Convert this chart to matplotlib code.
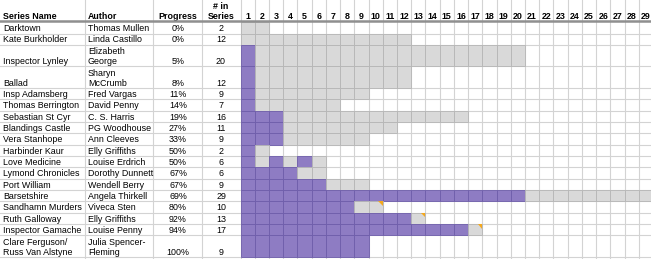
import matplotlib.pyplot as plt
import matplotlib.patches as patches

plt.rcParams['font.family'] = ['Liberation Sans', 'DejaVu Sans']

series = ["Darktown", "Kate Burkholder", "Inspector Lynley", "Ballad", "Insp Adamsberg",
          "Thomas Berrington", "Sebastian St Cyr", "Blandings Castle", "Vera Stanhope",
          "Harbinder Kaur", "Love Medicine", "Lymond Chronicles", "Port William",
          "Barsetshire", "Sandhamn Murders", "Ruth Galloway", "Inspector Gamache",
          "Clare Ferguson/\nRuss Van Alstyne"]
authors = ["Thomas Mullen", "Linda Castillo", "Elizabeth\nGeorge", "Sharyn\nMcCrumb",
           "Fred Vargas", "David Penny", "C. S. Harris", "PG Woodhouse", "Ann Cleeves",
           "Elly Griffiths", "Louise Erdrich", "Dorothy Dunnett", "Wendell Berry",
           "Angela Thirkell", "Viveca Sten", "Elly Griffiths", "Louise Penny",
           "Julia Spencer-\nFleming"]
progress = ["0%", "0%", "5%", "8%", "11%", "14%", "19%", "27%", "33%", "50%", "50%",
            "67%", "67%", "69%", "80%", "92%", "94%", "100%"]
in_series = [2, 12, 20, 12, 9, 7, 16, 11, 9, 2, 6, 6, 9, 29, 10, 13, 17, 9]
books_read = [[], [], [1], [1], [1], [1], [1, 2, 3], [1, 2, 3], [1, 2, 3], [1],
              [1, 3, 5], [1, 2, 3, 4], [1, 2, 3, 4, 5, 6], list(range(1, 21)),
              list(range(1, 9)), list(range(1, 13)), list(range(1, 17)), list(range(1, 10))]
# cells carrying a comment marker (row, book)
notes = [(14, 10), (15, 13), (16, 17)]
book_numbers = list(range(1, 30))

W, H = 651, 259
fig = plt.figure(figsize=(W / 100, H / 100), dpi=100)
ax = fig.add_axes([0, 0, 1, 1])
ax.set_xlim(0, W)
ax.set_ylim(H, 0)
ax.axis('off')

PURPLE = '#8e7cc3'
PURPLE_EDGE = '#6e5daa'
GRAY = '#d9d9d9'
GRAY_EDGE = '#b5b5b5'
GRID = '#d3d3d3'
FS = 6.4

header_bottom = 22.2
x0, cw = 240.6, 14.22
col_lines = [85, 153, 202]
name_x, author_x, prog_x, num_x = 3, 88, 178, 221

# row positions
tops = []
heights = []
y = header_bottom
for s, a in zip(series, authors):
    h = 21.5 if ('\n' in s or '\n' in a) else 11.35
    tops.append(y)
    heights.append(h)
    y += h

# grid
for x in col_lines:
    ax.axvline(x, color=GRID, lw=0.8, zorder=1)
for k in range(len(book_numbers) + 1):
    ax.axvline(x0 + k * cw, color=GRID, lw=0.8, zorder=1)
for t, h in zip(tops, heights):
    ax.axhline(t + h, color=GRID, lw=0.8, zorder=1)

# gantt cells
for i, n in enumerate(in_series):
    for b in range(1, n + 1):
        read = b in books_read[i]
        ax.add_patch(patches.Rectangle(
            (x0 + (b - 1) * cw, tops[i]), cw, heights[i],
            facecolor=PURPLE if read else GRAY,
            edgecolor=PURPLE_EDGE if read else GRAY_EDGE,
            lw=0.6, zorder=2))

for i, b in notes:
    xr = x0 + b * cw
    yt = tops[i]
    ax.add_patch(patches.Polygon([(xr - 4.5, yt), (xr, yt), (xr, yt + 4.5)],
                                 closed=True, facecolor='#f4a81d', edgecolor='none', zorder=3))

# header
hy = 19.3
ax.text(name_x, hy, "Series Name", fontsize=FS, fontweight='bold', va='baseline', ha='left')
ax.text(author_x, hy, "Author", fontsize=FS, fontweight='bold', va='baseline', ha='left')
ax.text(prog_x, hy, "Progress", fontsize=FS, fontweight='bold', va='baseline', ha='center')
ax.text(num_x, hy, "Series", fontsize=FS, fontweight='bold', va='baseline', ha='center')
ax.text(num_x, hy - 10, "# in", fontsize=FS, fontweight='bold', va='baseline', ha='center')
for k, lbl in enumerate(book_numbers):
    ax.text(x0 + (k + 0.5) * cw, hy, str(lbl), fontsize=FS, fontweight='bold',
            va='baseline', ha='center')
ax.axhline(header_bottom - 0.9, color='#8f8f8f', lw=1.8, zorder=5)

# body text
for i in range(len(series)):
    yb = tops[i] + heights[i] - 0.4
    kw = dict(fontsize=FS, va='bottom', linespacing=1.1, zorder=4)
    ax.text(name_x, yb, series[i], ha='left', **kw)
    ax.text(author_x, yb, authors[i], ha='left', **kw)
    ax.text(prog_x, yb, progress[i], ha='center', **kw)
    ax.text(num_x, yb, str(in_series[i]), ha='center', **kw)

fig.savefig('out.png', dpi=100)
